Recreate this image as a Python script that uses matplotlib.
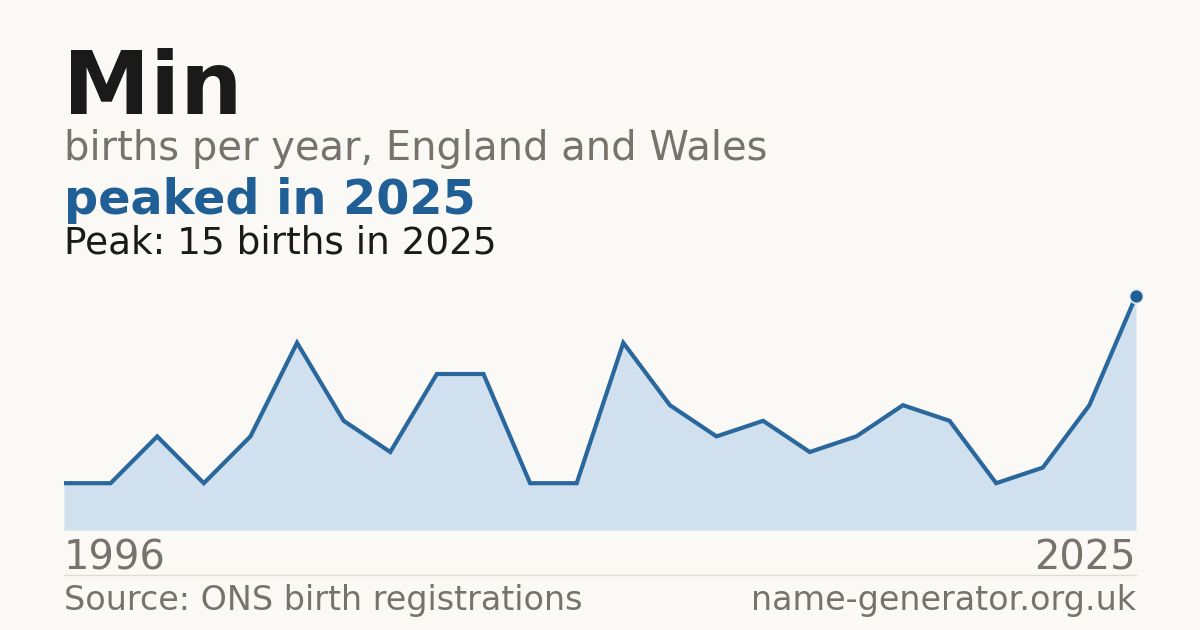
import matplotlib
matplotlib.use("Agg")
import matplotlib.pyplot as plt
import numpy as np

# births per year for "Min" (years with data, in order)
births = [3, 3, 6, 3, 6, 12, 7, 5, 10, 10, 3, 3, 12, 8, 6, 7, 5, 6, 8, 7, 3, 4, 8, 15]
first_year = "1996"
last_year = "2025"

BG = "#faf9f5"
BLUE = "#1f5f96"
FILL = "#d0e0ef"
GRAY = "#77726b"
DARK = "#1a1a1a"

fig = plt.figure(figsize=(12, 6.3), dpi=100, facecolor=BG)

W, H = 1200, 630
def fx(px):
    return px / W
def fy(py):
    return 1 - py / H

ax = fig.add_axes([fx(64), fy(530), fx(1136) - fx(64), fy(296) - fy(530)])
ax.set_facecolor(BG)
x = np.arange(len(births))
ax.fill_between(x, births, 0, color=FILL, lw=0)
ax.plot(x, births, color="#2a679c", lw=3.0, solid_joinstyle="miter", solid_capstyle="butt")
ax.plot(x[-1], births[-1], "o", ms=10, color=BLUE, mec="#e8eef5", mew=1.2, clip_on=False, zorder=5)
ax.set_xlim(0, len(births) - 1)
ax.set_ylim(0, max(births))
ax.axis("off")

# texts
fig.text(fx(63), fy(114), "Min", fontsize=63, fontweight="bold", color=DARK, va="baseline")
fig.text(fx(64), fy(160), "births per year, England and Wales", fontsize=28.8, color=GRAY, va="baseline")
fig.text(fx(64), fy(214), "peaked in 2025", fontsize=34.4, fontweight="bold", color=BLUE, va="baseline")
fig.text(fx(64), fy(254), "Peak: 15 births in 2025", fontsize=26.9, color=DARK, va="baseline")

fig.text(fx(64), fy(570), first_year, fontsize=28.8, color=GRAY, va="baseline")
fig.text(fx(1136), fy(570), last_year, fontsize=28.8, color=GRAY, va="baseline", ha="right")

fig.add_artist(plt.Line2D([fx(64), fx(1136)], [fy(574.5), fy(574.5)], color="#e0dbd3", lw=1))

fig.text(fx(64), fy(610), "Source: ONS birth registrations", fontsize=24, color=GRAY, va="baseline")
fig.text(fx(1136), fy(610), "name-generator.org.uk", fontsize=24, color=GRAY, va="baseline", ha="right")

fig.savefig("out.png", dpi=100, facecolor=BG)
